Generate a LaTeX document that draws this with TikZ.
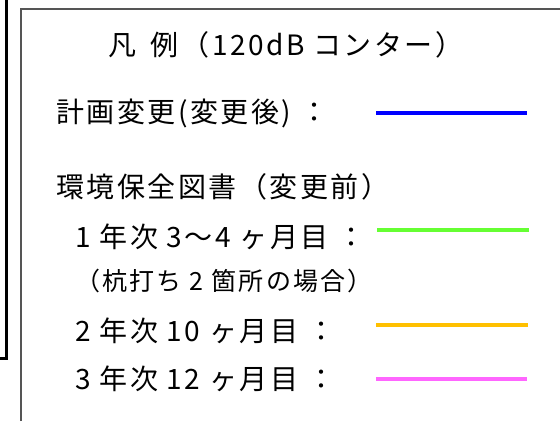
\documentclass[tikz,border=0pt]{standalone}
\usepackage{fontspec}
\setmainfont{Noto Sans CJK JP}
\newfontfamily\legfont[LetterSpace=9]{Noto Sans CJK JP}
\usepackage{tikz}

\tikzset{
  legtext/.style={anchor=west, inner sep=0pt, font=\legfont\fontsize{28}{30}\selectfont},
  smalltext/.style={anchor=west, inner sep=0pt, font=\legfont\fontsize{25}{27}\selectfont},
  keyline/.style={line width=4pt}
}
\definecolor{keyblue}{RGB}{0,0,255}
\definecolor{keygreen}{RGB}{102,255,51}
\definecolor{keyorange}{RGB}{255,192,0}
\definecolor{keypink}{RGB}{255,102,255}
\definecolor{framegray}{RGB}{85,85,85}

\begin{document}
\begin{tikzpicture}[x=1pt,y=-1pt]
	\useasboundingbox (0,0) rectangle (560,421);
	% neighbouring box cut at the left edge
	\draw[line width=3pt] (6.5,0) -- (6.5,358) -- (0,358);
	% legend frame (runs off right and bottom)
	\draw[framegray, line width=2pt] (20.5,421) -- (20.5,9) -- (560,9);
	
	% title
	\node[legtext] (title) at (108,45) {凡\hspace{6pt} 例（120dB コンター）};
	
	% after change
	\node[legtext] (plan) at (56,113) {計画変更(変更後) ：};
	\draw[keyline, keyblue] (376,112.5) -- (527,112.5);
	
	% before change
	\node[legtext] (env) at (56,187) {環境保全図書（変更前）};
	\node[legtext] (yr1) at (75,237) {1 年次 3～4 ヶ月目 ：};
	\draw[keyline, keygreen] (377,230) -- (529,230);
	\node[smalltext] (pile) at (75,281) {（杭打ち 2 箇所の場合）};
	\node[legtext] (yr2) at (75,331) {2 年次 10 ヶ月目 ：};
	\draw[keyline, keyorange] (376,325) -- (528,325);
	\node[legtext] (yr3) at (75,379) {3 年次 12 ヶ月目 ：};
	\draw[keyline, keypink] (376,378.5) -- (527,378.5);
\end{tikzpicture}
\end{document}
